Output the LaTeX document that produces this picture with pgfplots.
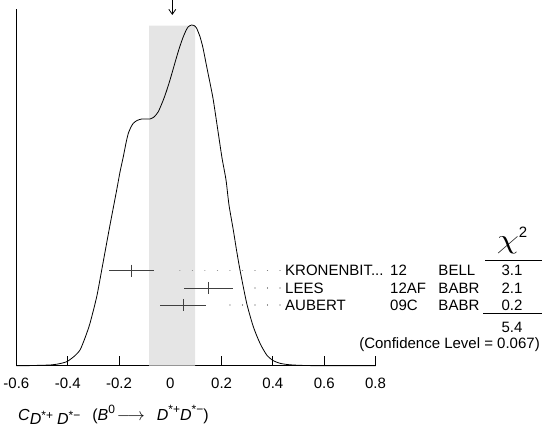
\documentclass[border=0pt]{standalone}
\usepackage{pgfplots}
\pgfplotsset{compat=1.18}
\usetikzlibrary{arrows.meta}
\usepackage{fontspec}
\setmainfont{Liberation Sans}
\usepackage{graphicx}
\newcommand{\fs}[1]{\fontsize{#1}{#1}\selectfont}
\begin{document}
\begin{tikzpicture}[x=1pt,y=1pt]
\path[use as bounding box] (0,0) rectangle (548,427);
\begin{axis}[
  at={(16.4pt,61.3pt)}, anchor=south west,
  scale only axis, width=359.1pt, height=356.4pt,
  xmin=-0.6, xmax=0.8, ymin=0, ymax=356.4,
  axis x line=bottom, axis y line=left,
  axis line style={-, line width=0.9pt},
  xtick={-0.6,-0.4,-0.2,0,0.2,0.4,0.6,0.8},
  xticklabels={-0.6,-0.4,-0.2,0,0.2,0.4,0.6,0.8},
  ytick=\empty,
  tick align=inside, major tick length=10pt,
  tick style={line width=0.9pt, black},
  xticklabel style={font=\fs{15}, yshift=-8.5pt},
  clip=false,
]
% shaded band (average +- scaled error)
\addplot[fill=gray!20, draw=none] coordinates {(-0.083,0) (-0.083,340) (0.0963,340) (0.0963,0)} \closedcycle;
% ideogram curve
\addplot[black, line width=0.8pt, smooth, tension=0.4] coordinates {
(-0.6000,0) (-0.5470,0.1) (-0.5080,0.4) (-0.4690,0.7) (-0.4378,1.7) (-0.4039,4.0)
(-0.3754,9.2) (-0.3520,15.7) (-0.3326,27.7) (-0.3131,42.4) (-0.2869,69.0) (-0.2674,95.7)
(-0.2507,119.0) (-0.2351,140.7) (-0.2090,175.7) (-0.1961,193.7) (-0.1832,209.0)
(-0.1727,222.7) (-0.1637,232.4) (-0.1532,238.7) (-0.1443,242.4) (-0.1298,245.2)
(-0.1115,246.7) (-0.0947,246.7) (-0.0791,246.7) (-0.0635,248.7) (-0.0468,254.0)
(-0.0273,265.7) (-0.0148,274.7) (-0.0012,285.7) (0.0250,309.0) (0.0378,319.7)
(0.0507,329.0) (0.0612,335.2) (0.0702,339.0) (0.0834,340.7) (0.0924,340.2)
(0.1021,337.7) (0.1158,329.0) (0.1275,317.7) (0.1419,299.0) (0.1548,282.7)
(0.1676,265.7) (0.1871,232.4) (0.2016,207.7) (0.2172,185.7) (0.2288,160.7)
(0.2456,135.7) (0.2581,115.7) (0.2717,95.7) (0.2979,62.4) (0.3236,39.0)
(0.3497,22.4) (0.3758,10.7) (0.4004,5.2) (0.4277,2.4) (0.4589,1.1) (0.4928,0.5)
(0.5446,0.1) (0.6226,0) (0.8000,0)
};
% measurements
\addplot[black!75, line width=0.9pt, mark=|, mark size=6pt, mark options={line width=0.9pt, black!75},
  error bars/.cd, x dir=both, x explicit, error mark=none, error bar style={line width=0.9pt, black!75}]
  coordinates {(-0.150,95) +- (0.088,0)};
\addplot[black!75, line width=0.9pt, mark=|, mark size=6pt, mark options={line width=0.9pt, black!75},
  error bars/.cd, x dir=both, x explicit, error mark=none, error bar style={line width=0.9pt, black!75}]
  coordinates {(0.150,77.7) +- (0.096,0)};
\addplot[black!75, line width=0.9pt, mark=|, mark size=6pt, mark options={line width=0.9pt, black!75},
  error bars/.cd, x dir=both, x explicit, error mark=none, error bar style={line width=0.9pt, black!75}]
  coordinates {(0.050,60.7) +- (0.090,0)};
% dotted leaders
\addplot[gray, line width=1.1pt, line cap=round, dash pattern=on 0.01pt off 12.5pt] coordinates {(0.4277,95) (0.0,95)};
\addplot[gray, line width=1.1pt, line cap=round, dash pattern=on 0.01pt off 12.5pt] coordinates {(0.4277,77.7) (0.2979,77.7)};
\addplot[gray, line width=1.1pt, line cap=round, dash pattern=on 0.01pt off 12.5pt] coordinates {(0.4277,60.7) (0.187,60.7)};
% arrow for average
\draw[line width=0.8pt, -{Straight Barb[length=5pt,width=7pt]}] (axis cs:0.0078,365.7) -- (axis cs:0.0078,350.7);
% texts
\begin{scope}[every node/.style={inner sep=0pt, font=\fs{15}}]
\node[anchor=west] at (axis cs:0.4472,95) {KRONENBIT...};
\node[anchor=west] at (axis cs:0.4472,77.7) {LEES};
\node[anchor=west] at (axis cs:0.4472,60.7) {AUBERT};
\node[anchor=west] at (axis cs:0.8565,95) {12};
\node[anchor=west] at (axis cs:0.8565,77.7) {12AF};
\node[anchor=west] at (axis cs:0.8565,60.7) {09C};
\node[anchor=west] at (axis cs:1.0448,95) {BELL};
\node[anchor=west] at (axis cs:1.0448,77.7) {BABR};
\node[anchor=west] at (axis cs:1.0448,60.7) {BABR};
\node at (axis cs:1.3322,95) {3.1};
\node at (axis cs:1.3322,77.7) {2.1};
\node at (axis cs:1.3322,60.7) {0.2};
\node at (axis cs:1.3322,38.7) {5.4};
\node[anchor=east] at (axis cs:1.4413,20.7) {(Confidence Level = 0.067)};
\node[anchor=base] at (axis cs:1.3322,117) {\scalebox{1.45}[1.1]{\fs{25}$\chi$}\raisebox{11pt}{\fs{15}2}};
\end{scope}
\draw[line width=0.9pt] (axis cs:1.2269,105.7) -- (axis cs:1.4480,105.7);
\draw[line width=0.9pt] (axis cs:1.2191,52.4) -- (axis cs:1.4480,52.4);
\end{axis}
% x-axis label
\node[anchor=base west, inner sep=0pt, font=\fs{16}] at (18,6)
 {\textit{C}\raisebox{-4pt}{\fs{16}\textit{D}\raisebox{5pt}{\fs{12}*+}\hspace{4pt}\textit{D}\raisebox{5pt}{\fs{12}*−}}\hspace{12pt}(\textit{B}\raisebox{7.5pt}{\fs{12}0}\hspace{2pt}$\longrightarrow$\hspace{12pt}\textit{D}\raisebox{7.5pt}{\fs{12}*+}\textit{D}\raisebox{7.5pt}{\fs{12}*−})};
\end{tikzpicture}
\end{document}
